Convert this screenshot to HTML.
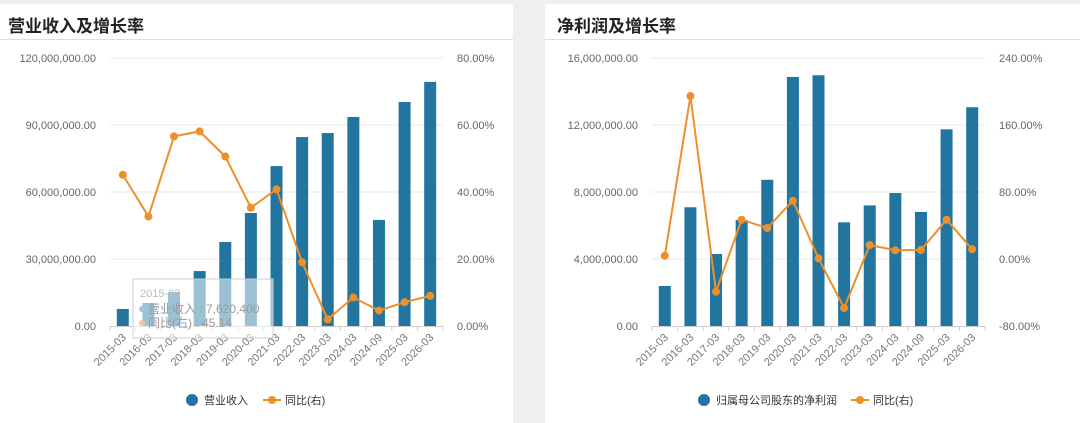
<!DOCTYPE html>
<html><head><meta charset="utf-8">
<style>
body{margin:0;width:1080px;height:423px;background:#efefef;font-family:"Liberation Sans","Noto Sans CJK SC",sans-serif;overflow:hidden;position:relative}
.card{position:absolute;top:4px;background:#fff;height:419px}
.title{position:absolute;left:8px;top:8px;font-size:17px;font-weight:bold;color:#222}
.tbar{position:absolute;left:0;right:0;top:35px;border-top:1px solid #ddd}
svg{position:absolute;left:0;top:0}
</style></head><body>
<div class="card" style="left:0;width:513px">
 <div class="title">营业收入及增长率</div><div class="tbar"></div>
</div>
<div class="card" style="left:545px;width:535px">
 <div class="title" style="left:12px">净利润及增长率</div><div class="tbar"></div>
</div>
<svg id="chart" width="1080" height="423"></svg>
<script>
const categories=["2015-03","2016-03","2017-03","2018-03","2019-03","2020-03","2021-03","2022-03","2023-03","2024-03","2024-09","2025-03","2026-03"];
const revenueValues=[7620400,10300000,15200000,24600000,37600000,50600000,71600000,84600000,86400000,93600000,47500000,100300000,109300000];
const revenueGrowth=[45.14,32.7,56.6,58.1,50.6,35.3,40.8,19.0,2.0,8.5,4.6,7.1,9.0];
const revenueTicks=[0,30000000,60000000,90000000,120000000];
const revenueGrowthTicks=[0,20,40,60,80];
const profitValues=[2390000,7090000,4300000,6330000,8730000,14870000,14970000,6190000,7200000,7940000,6810000,11740000,13060000];
const profitGrowth=[3.9,194.6,-39.0,46.9,37.0,69.6,0.8,-58.5,16.7,10.4,10.7,46.9,11.6];
const profitTicks=[0,4000000,8000000,12000000,16000000];
const profitGrowthTicks=[-80,0,80,160,240];

const NS="http://www.w3.org/2000/svg";
const svg=document.getElementById('chart');
function mk(tag,attrs,parent){const e=document.createElementNS(NS,tag);for(const k in attrs)e.setAttribute(k,attrs[k]);(parent||svg).appendChild(e);return e;}
function fmt(v){return v.toLocaleString('en-US',{minimumFractionDigits:2,maximumFractionDigits:2});}

function draw(o){
 const x0=o.x0,x1=o.x1,yT=58,yB=326;
 const band=(x1-x0)/categories.length;
 const xc=i=>x0+band*(i+0.5);
 const lmax=o.lt[o.lt.length-1],rmin=o.rt[0],rmax=o.rt[o.rt.length-1];
 const yl=v=>yB-(v/lmax)*(yB-yT);
 const yr=v=>yB-((v-rmin)/(rmax-rmin))*(yB-yT);
 o.lt.forEach((t,i)=>{
  const y=yl(t);
  if(i>0){const g=mk('line',{x1:x0,x2:x1,y1:y,y2:y,stroke:'#e8e8e8'});
  
  }
  const tx=mk('text',{x:x0-14,y:y+4,'text-anchor':'end','font-size':11,fill:'#666'});tx.textContent=fmt(t);
  
  
 });
 o.rt.forEach(t=>{
  const tx=mk('text',{x:x1+14,y:yr(t)+4,'font-size':11,fill:'#666'});tx.textContent=t.toFixed(2)+'%';
  
  
 });
 mk('line',{x1:x0,x2:x1,y1:yB+0.5,y2:yB+0.5,stroke:'#ccc'});
 categories.forEach((c,i)=>{
  const tx0=x0+band*i;
  mk('line',{x1:tx0,x2:tx0,y1:yB,y2:yB+5,stroke:'#ccc'});
  const b=mk('rect',{x:xc(i)-6,y:yl(o.bars[i]),width:12,height:yB-yl(o.bars[i]),fill:'#21759f'});
  
  
  const t=mk('text',{x:xc(i)+4,y:yB+12,'text-anchor':'end','font-size':11,fill:'#777',transform:`rotate(-45 ${xc(i)+4} ${yB+12})`});t.textContent=c;
  
  
 });
 mk('line',{x1:x1,x2:x1,y1:yB,y2:yB+5,stroke:'#ccc'});
 const pts=o.line.map((v,i)=>xc(i)+','+yr(v)).join(' ');
 const pl=mk('polyline',{points:pts,fill:'none',stroke:'#ef8f2a','stroke-width':2});
 
 
 o.line.forEach((v,i)=>{const c=mk('circle',{cx:xc(i),cy:yr(v),r:4,fill:'#ef8f2a'});
  
  });
 // legend
 const lc=mk('circle',{cx:o.lg,cy:400,r:6,fill:'#21759f'});
 
 
 const lt=mk('text',{x:o.lg+12,y:404,'font-size':11,fill:'#333'});lt.textContent=o.label;
 
 
 const lx=o.lg2;
 mk('line',{x1:lx-9,x2:lx+9,y1:400,y2:400,stroke:'#ef8f2a','stroke-width':2});
 mk('circle',{cx:lx,cy:400,r:4,fill:'#ef8f2a'});
 const l2=mk('text',{x:lx+13,y:404,'font-size':11,fill:'#333'});l2.textContent='同比(右)';
 
 
}
draw({x0:110,x1:443,lt:revenueTicks,rt:revenueGrowthTicks,bars:revenueValues,line:revenueGrowth,label:'营业收入',lg:192,lg2:272});
draw({x0:652,x1:985,lt:profitTicks,rt:profitGrowthTicks,bars:profitValues,line:profitGrowth,label:'归属母公司股东的净利润',lg:704,lg2:860});
// tooltip
const tip=mk('g',{});


mk('rect',{x:133,y:279,width:140,height:59,fill:'rgba(255,255,255,0.55)',stroke:'#ccc'},tip);
const t1=mk('text',{x:140,y:297,'font-size':11,fill:'#bbb'},tip);t1.textContent='2015-03';
mk('circle',{cx:142,cy:309,r:3,fill:'#a9c4d4'},tip);
const t2=mk('text',{x:148,y:313,'font-size':12,fill:'#999'},tip);t2.textContent='营业收入 : 7,620,400';
mk('circle',{cx:142,cy:323,r:3,fill:'#f5c89a'},tip);
const t3=mk('text',{x:148,y:327,'font-size':12,fill:'#999'},tip);t3.textContent='同比(右) : 45.14';
</script>
</body></html>
